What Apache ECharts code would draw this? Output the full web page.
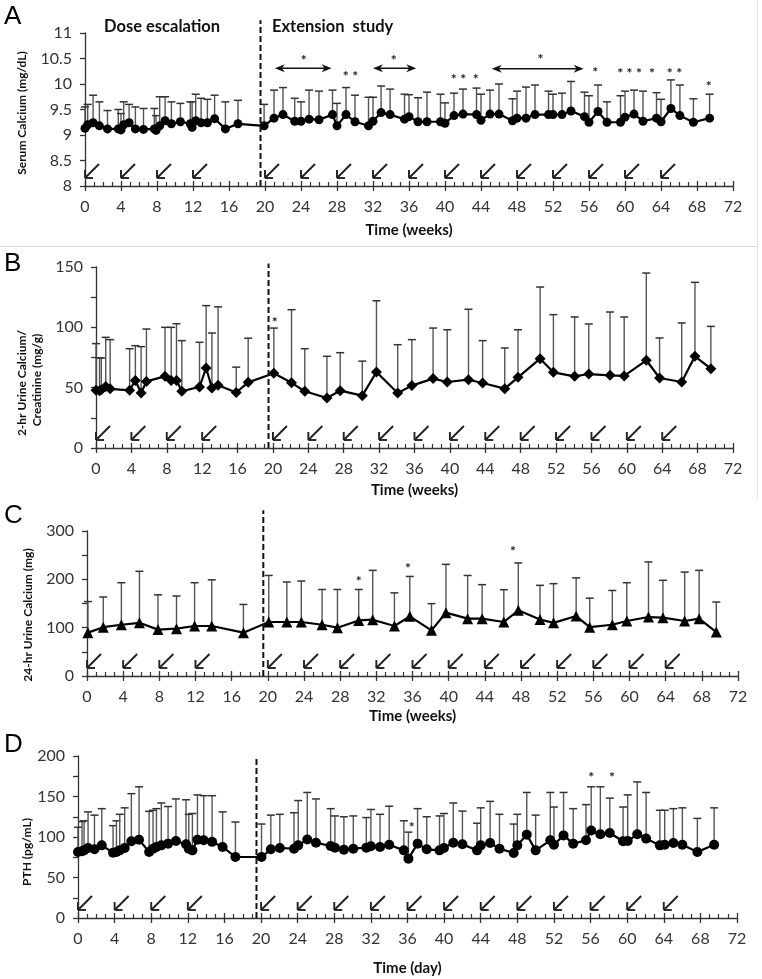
<!DOCTYPE html>
<html><head><meta charset="utf-8">
<script src="https://cdn.jsdelivr.net/npm/echarts@6/dist/echarts.min.js"></script>
<style>html,body{margin:0;padding:0;background:#fff}#c{width:762px;height:979px}</style>
</head><body><div id="c"></div>
<script>
// ---------- DATA ----------
const xTicks = [0,4,8,12,16,20,24,28,32,36,40,44,48,52,56,60,64,68,72];
const doseWeeks = [0,4,8,12,20,24,28,32,36,40,44,48,52,56,60,64];
const phaseSplit = 19.5;

// Panel A: Serum calcium (mg/dL)
const A_weeks = [0,0.3,0.9,1.6,2.5,3.7,4.0,4.3,4.9,5.6,6.5,7.7,7.9,8.3,8.9,9.6,10.6,11.7,11.9,12.3,12.9,13.6,14.4,15.6,17.0,19.9,21.0,22.0,23.3,24.0,24.9,26.0,27.5,28.0,29.0,30.0,31.5,32.0,32.9,33.9,35.5,36.0,37.0,38.0,39.5,40.0,41.0,42.0,43.5,44.0,45.0,46.0,47.5,48.0,49.0,50.0,51.5,52.0,53.0,54.0,55.5,56.0,57.0,58.0,59.5,60.0,61.0,62.0,63.5,64.0,65.1,66.1,67.6,69.4];
const A_mean = [9.13,9.2,9.24,9.18,9.12,9.12,9.1,9.2,9.24,9.12,9.11,9.12,9.09,9.18,9.28,9.22,9.26,9.22,9.15,9.28,9.24,9.24,9.32,9.12,9.22,9.18,9.33,9.4,9.27,9.27,9.31,9.3,9.4,9.18,9.4,9.26,9.18,9.27,9.44,9.4,9.31,9.36,9.26,9.26,9.26,9.23,9.38,9.41,9.4,9.29,9.41,9.41,9.28,9.33,9.33,9.4,9.4,9.4,9.4,9.47,9.36,9.25,9.46,9.25,9.25,9.35,9.41,9.27,9.33,9.26,9.52,9.38,9.25,9.33];
const A_upper = [9.55,9.6,9.78,9.65,9.48,9.5,9.42,9.65,9.6,9.55,9.52,9.52,9.38,9.75,9.75,9.65,9.62,9.65,9.65,9.8,9.72,9.7,9.78,9.65,9.68,9.6,9.88,9.93,9.72,9.65,9.88,9.86,9.88,9.62,9.93,9.78,9.74,9.74,9.96,9.9,9.8,9.79,9.73,9.84,9.8,9.63,9.82,9.9,9.92,9.8,9.88,10.0,9.71,9.86,9.94,9.98,9.86,9.8,9.82,10.05,9.84,9.77,9.98,9.65,9.77,9.86,9.88,9.86,9.83,9.7,10.08,9.98,9.71,9.8];
const A_starX = [24.3,29.5,34.3,41.5,43.4,50.6,56.7,60.5,63.0,65.5,69.3];
const A_starY = [10.46,10.15,10.46,10.08,10.08,10.49,10.23,10.2,10.2,10.2,9.96];
const A_starText = ['*','* *','*','* *','*','*','*','* * *','*','* *','*'];
const A_spanStart = [21.1,32.0,45.2];
const A_spanEnd = [27.4,36.8,55.4];
const A_spanY = [10.31,10.31,10.30];

// Panel B: 2-hr urine calcium/creatinine (mg/g)
const B_weeks = [0,0.4,0.6,1.1,1.6,3.8,4.45,5.1,5.7,7.8,8.5,9.1,9.7,11.7,12.45,13.1,13.8,15.85,17.2,20.1,22.1,23.6,26.1,27.6,30.1,31.7,34.1,35.7,38.1,39.7,42.1,43.7,46.2,47.7,50.2,51.7,54.1,55.7,58.1,59.7,62.2,63.7,66.2,67.7,69.5];
const B_mean = [47.8,47.5,48.3,51,49,47.8,56,45.6,55.2,59.4,56,56,47,50.6,66.3,49.7,52,46,54.4,62,54,47,41.4,47.5,43.4,63,45.6,51.7,57.5,54.7,56.6,53.9,49.2,58.6,74,62.7,59.4,61.3,60.2,59.7,72.7,58,54.7,76,65.7];
const B_upper = [86.5,74.6,74.6,91.7,89.8,82.3,84.8,84,98.6,100,100,103,89,87.6,118,95.3,117,67,91,99.4,114.6,82.3,76,79,72,122,85.6,89.8,99.4,98,115,89,82.9,98,133.4,110.5,108.6,102.8,112.7,108.6,145,91.2,103.6,137.3,100.8];
const B_starX = [20.2];
const B_starY = [104];
const B_starText = ['*'];

// Panel C: 24-hr urine calcium (mg)
const C_weeks = [0.1,1.8,3.8,5.8,7.85,9.9,11.9,13.8,17.3,20.1,22.1,23.7,26.0,27.7,30.05,31.6,34.0,35.7,38.1,39.7,42.1,43.7,46.1,47.7,50.1,51.6,54.1,55.6,58.1,59.7,62.1,63.7,66.1,67.7,69.6];
const C_mean = [89.7,101,106,110,96,98,103.4,103.4,89.7,111.7,111.7,111.7,106,100,115,116.5,103.4,123.4,94.5,131,118.6,118.6,111.7,135.9,117,110,124,101,106,113.8,122,120.7,113.8,118.6,91];
const C_upper = [154,163.4,193,216.6,168,165.5,193,199,148,208,194.5,196.5,179,179,179,218.6,172,206,149.7,231,208,189,178.6,233.8,187.6,191,203,161,177,193,236,198,215,218.6,153];
const C_starX = [30.05,35.5,47.1];
const C_starY = [195,223,258];
const C_starText = ['*','*','*'];

// Panel D: PTH (pg/mL)
const D_weeks = [0,0.44,0.66,1.1,1.8,2.6,3.83,4.2,4.56,5.1,5.83,6.67,7.77,8.2,8.57,9.1,9.84,10.7,11.8,12.1,12.5,13.05,13.74,14.65,15.8,17.2,20.05,21.07,22.05,23.6,24.06,25.05,26.0,27.6,28.07,29.05,30.08,31.5,32.0,33.0,34.0,35.6,36.1,37.1,38.1,39.5,39.98,41.0,42.0,43.6,44.0,45.03,46.05,47.6,48.0,49.03,50.0,51.6,52.0,53.05,54.1,55.5,56.07,57.07,58.1,59.55,60.06,61.1,62.07,63.57,64.1,65.05,66.03,67.67,69.5];
const D_mean = [81.5,82.3,83.5,86.4,84.8,89.7,80.7,81.5,83.5,86.4,94.7,96.7,81.5,85.6,87.7,89.7,91.8,95,91,85.6,83.5,96.7,96,94,87.7,75.3,75.3,84.8,86.4,85.6,89.7,97,93,88.9,86.8,84.4,85.6,86.8,88.5,87.7,90.5,83.5,73.3,91.8,84.8,83.5,86.4,93,91,83.5,89.7,92.6,85.6,80.2,89.7,102.9,83.5,95.9,90.5,102,91.8,95.9,108,103.3,105,94.7,95,103.3,98,89.7,90.5,92.6,90.5,81.5,90.5];
const D_upper = [112,119,120,131,127,135,114,120,128,136,153.5,162,131.7,133,135,142,137.6,147,146,128,129,152,151,151,131,118.5,116,127,128,130,145,155,147,135,126,125,126,124,134,128,138,120,106,135,125,126,129,142,132,117,136,144,128,116,128,155,127,155,137,155,135,140,162,162,148,137,152,168,155,133,133,135,136,123,136];
const D_starX = [36.45,56.07,58.35];
const D_starY = [112,174,174];
const D_starText = ['*','*','*'];

// ---------- CHART ----------
const FONT = 'Lato, "Open Sans", sans-serif';
const chart = echarts.init(document.getElementById('c'), null, {renderer:'canvas'});

const panels = [
  {grid:{left:85, top:33, width:648, height:153}, ymin:8, ymax:11, yint:0.5, lab:v=>String(v),
   weeks:A_weeks, mean:A_mean, upper:A_upper, sym:'circle', symSize:9,
   sx:A_starX, sy:A_starY, st:A_starText, dashTop:11.25, xname:'Time (weeks)', nameGap:37},
  {grid:{left:96, top:267, width:637, height:181}, ymin:0, ymax:150, yint:25, lab:v=>(v%50===0?String(v):''),
   weeks:B_weeks, mean:B_mean, upper:B_upper, sym:'diamond', symSize:11,
   sx:B_starX, sy:B_starY, st:B_starText, dashTop:153, xname:'Time (weeks)', nameGap:35},
  {grid:{left:87, top:531, width:651, height:145}, ymin:0, ymax:300, yint:50, lab:v=>(v%100===0?String(v):''),
   weeks:C_weeks, mean:C_mean, upper:C_upper, sym:'triangle', symSize:11,
   sx:C_starX, sy:C_starY, st:C_starText, dashTop:343, xname:'Time (weeks)', nameGap:33},
  {grid:{left:78, top:756, width:659, height:162}, ymin:0, ymax:200, yint:25, lab:v=>(v%50===0?String(v):''),
   weeks:D_weeks, mean:D_mean, upper:D_upper, sym:'circle', symSize:10,
   sx:D_starX, sy:D_starY, st:D_starText, dashTop:200, xname:'Time (day)', nameGap:43}
];

const grids = [], xAxes = [], yAxes = [], series = [];

function errRender(params, api){
  const x = api.value(0), m = api.value(1), u = api.value(2);
  const p0 = api.coord([x, m]), p1 = api.coord([x, u]);
  return {type:'group', children:[
    {type:'line', shape:{x1:p0[0], y1:p0[1], x2:p1[0], y2:p1[1]}, style:{stroke:'#555', lineWidth:1.4}},
    {type:'line', shape:{x1:p1[0]-4, y1:p1[1], x2:p1[0]+4, y2:p1[1]}, style:{stroke:'#333', lineWidth:1.5}}
  ]};
}
function doseRender(params, api){
  const p = api.coord([api.value(0), api.value(1)]);
  const tx = p[0], ty = p[1] - 8;
  const st = {stroke:'#222', lineWidth:1.9};
  return {type:'group', children:[
    {type:'line', shape:{x1:tx, y1:ty, x2:tx+14, y2:ty-14}, style:st},
    {type:'line', shape:{x1:tx, y1:ty, x2:tx, y2:ty-8}, style:st},
    {type:'line', shape:{x1:tx, y1:ty, x2:tx+8, y2:ty}, style:st}
  ]};
}
function dashRender(params, api){
  const p0 = api.coord([api.value(0), api.value(1)]);
  const p1 = api.coord([api.value(0), api.value(2)]);
  return {type:'line', shape:{x1:p0[0], y1:p0[1], x2:p1[0], y2:p1[1]},
    style:{stroke:'#111', lineWidth:2, lineDash:[6,3]}};
}
function makeStarRender(texts){
  return function(params, api){
    const p = api.coord([api.value(0), api.value(1)]);
    return {type:'text', x:p[0], y:p[1], style:{text:texts[params.dataIndex], fill:'#222',
      font:'bold 14px ' + FONT, textAlign:'center', textVerticalAlign:'middle'}};
  };
}
function spanRender(params, api){
  const a = api.coord([api.value(0), api.value(2)]);
  const b = api.coord([api.value(1), api.value(2)]);
  const y = a[1];
  return {type:'group', children:[
    {type:'line', shape:{x1:a[0]+3, y1:y, x2:b[0]-3, y2:y}, style:{stroke:'#111', lineWidth:1.6}},
    {type:'polygon', shape:{points:[[a[0],y],[a[0]+10,y-4],[a[0]+7,y],[a[0]+10,y+4]]}, style:{fill:'#111'}},
    {type:'polygon', shape:{points:[[b[0],y],[b[0]-10,y-4],[b[0]-7,y],[b[0]-10,y+4]]}, style:{fill:'#111'}}
  ]};
}

panels.forEach((P, i) => {
  grids.push(Object.assign({containLabel:false}, P.grid));
  xAxes.push({
    type:'value', gridIndex:i, min:0, max:72, interval:4, position:'bottom',
    axisLine:{show:true, onZero:false, lineStyle:{color:'#333', width:1.3}},
    axisTick:{show:true, inside:true, length:5, lineStyle:{color:'#333', width:1.3}},
    minorTick:{show:true, splitNumber:4, length:4, lineStyle:{color:'#333', width:1.2}},
    splitLine:{show:false}, minorSplitLine:{show:false},
    axisLabel:{fontSize:16, color:'#333', margin:13, fontFamily:FONT},
    name:P.xname, nameLocation:'middle', nameGap:P.nameGap,
    nameTextStyle:{fontSize:15, fontWeight:'bold', color:'#111', fontFamily:FONT}
  });
  yAxes.push({
    type:'value', gridIndex:i, min:P.ymin, max:P.ymax, interval:P.yint,
    axisLine:{show:true, lineStyle:{color:'#333', width:1.3}},
    axisTick:{show:true, length:5, lineStyle:{color:'#333', width:1.3}},
    splitLine:{show:false},
    axisLabel:{fontSize:16, color:'#333', margin:13, fontFamily:FONT, formatter:P.lab}
  });
  const ax = {xAxisIndex:i, yAxisIndex:i};
  series.push(Object.assign({type:'custom', renderItem:errRender, z:2, silent:true,
    encode:{x:0, y:[1,2]},
    data:P.weeks.map((w,k)=>[w, P.mean[k], P.upper[k]])}, ax));
  series.push(Object.assign({type:'line', z:3, silent:true,
    data:P.weeks.map((w,k)=>[w, P.mean[k]]),
    symbol:P.sym, symbolSize:P.symSize, showSymbol:true,
    itemStyle:{color:'#000'}, lineStyle:{color:'#000', width:2.2}}, ax));
  series.push(Object.assign({type:'custom', renderItem:doseRender, z:4, silent:true, clip:false,
    encode:{x:0, y:1},
    data:doseWeeks.map(w=>[w, P.ymin])}, ax));
  series.push(Object.assign({type:'custom', renderItem:dashRender, z:4, silent:true, clip:false,
    encode:{x:0, y:[1,2]},
    data:[[phaseSplit, P.ymin, P.dashTop]]}, ax));
  series.push(Object.assign({type:'custom', renderItem:makeStarRender(P.st), z:5, silent:true, clip:false,
    encode:{x:0, y:1},
    data:P.sx.map((x,k)=>[x, P.sy[k]])}, ax));
});
// span arrows in panel A
series.push({type:'custom', xAxisIndex:0, yAxisIndex:0, renderItem:spanRender, z:5, silent:true, clip:false,
  encode:{x:[0,1], y:2},
  data:A_spanStart.map((s,k)=>[s, A_spanEnd[k], A_spanY[k]])});

// secondary x axes giving the outward half of the major ticks
panels.forEach((P, i) => {
  xAxes.push({
    type:'value', gridIndex:i, min:0, max:72, interval:4, position:'bottom',
    axisLine:{show:false, onZero:false},
    axisTick:{show:true, inside:false, length:5, lineStyle:{color:'#333', width:1.3}},
    axisLabel:{show:false}, splitLine:{show:false}
  });
});

const boldName = 'bold 12px ' + FONT;
const letterFont = '26px "Liberation Sans", Arial, sans-serif';
const graphic = [
  {type:'line', shape:{x1:0, y1:246.5, x2:757.5, y2:246.5}, style:{stroke:'#dcdcdc', lineWidth:1}},
  {type:'line', shape:{x1:757.5, y1:0, x2:757.5, y2:498}, style:{stroke:'#e2e2e2', lineWidth:1}},
  {type:'text', x:4, y:17, style:{text:'A', font:letterFont, fill:'#000', textVerticalAlign:'middle'}},
  {type:'text', x:4, y:264, style:{text:'B', font:letterFont, fill:'#000', textVerticalAlign:'middle'}},
  {type:'text', x:4, y:516, style:{text:'C', font:letterFont, fill:'#000', textVerticalAlign:'middle'}},
  {type:'text', x:4, y:745, style:{text:'D', font:letterFont, fill:'#000', textVerticalAlign:'middle'}},
  {type:'text', x:104, y:27, style:{text:'Dose escalation', font:'bold 16.5px ' + FONT, fill:'#111', textVerticalAlign:'middle'}},
  {type:'text', x:272, y:27, style:{text:'Extension  study', font:'bold 16.5px ' + FONT, fill:'#111', textVerticalAlign:'middle'}},
  {type:'text', x:22, y:113, rotation:Math.PI/2, style:{text:'Serum Calcium (mg/dL)', font:boldName, fill:'#111', textAlign:'center', textVerticalAlign:'middle'}},
  {type:'text', x:22, y:383, rotation:Math.PI/2, style:{text:'2-hr Urine Calcium/', font:boldName, fill:'#111', textAlign:'center', textVerticalAlign:'middle'}},
  {type:'text', x:37, y:380, rotation:Math.PI/2, style:{text:'Creatinine (mg/g)', font:boldName, fill:'#111', textAlign:'center', textVerticalAlign:'middle'}},
  {type:'text', x:28, y:615, rotation:Math.PI/2, style:{text:'24-hr Urine Calcium (mg)', font:boldName, fill:'#111', textAlign:'center', textVerticalAlign:'middle'}},
  {type:'text', x:27, y:852, rotation:Math.PI/2, style:{text:'PTH (pg/mL)', font:boldName, fill:'#111', textAlign:'center', textVerticalAlign:'middle'}}
];

chart.setOption({
  backgroundColor:'#fff',
  animation:false,
  grid:grids, xAxis:xAxes, yAxis:yAxes, series:series, graphic:graphic
});
</script></body></html>
